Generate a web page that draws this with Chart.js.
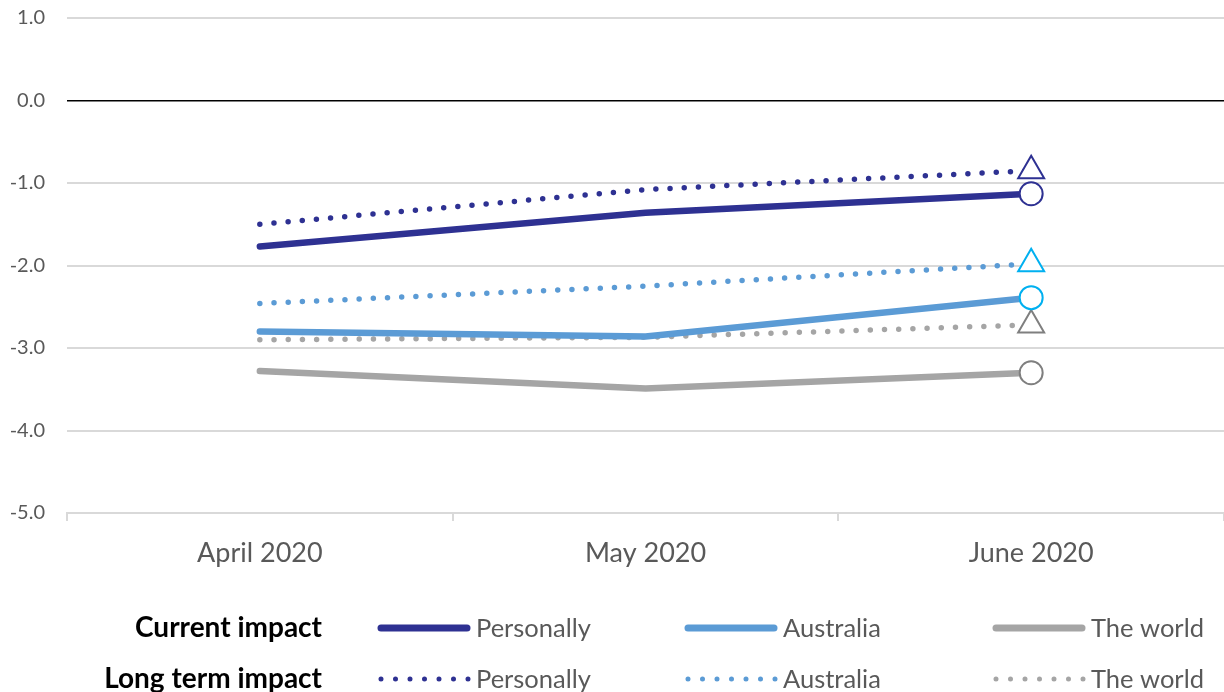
<!DOCTYPE html>
<html>
<head>
<meta charset="utf-8">
<script src="https://cdn.jsdelivr.net/npm/chart.js@4"></script>
<style>
  html, body { margin: 0; padding: 0; background: #fff; overflow: hidden; }
  #wrap { width: 1224px; height: 692px; position: relative; }
  canvas { display: block; }
</style>
</head>
<body>
<div id="wrap"><canvas id="chart"></canvas></div>
<script>
/* Impact of COVID-19: current vs long term, by month */

const months = ["April 2020", "May 2020", "June 2020"];
const currentPersonally = [-1.77, -1.36, -1.13];
const currentAustralia = [-2.80, -2.86, -2.39];
const currentWorld = [-3.28, -3.49, -3.30];
const longPersonally = [-1.50, -1.08, -0.85];
const longAustralia = [-2.46, -2.25, -1.98];
const longWorld = [-2.90, -2.87, -2.72];
const yMin = -5;
const yMax = 1;
const rowLabels = ["Current impact", "Long term impact"];
const seriesNames = ["Personally", "Australia", "The world"];

const NAVY = "#2e3192";
const SKY = "#5b9bd5";
const GREY = "#a5a5a5";
const CYAN = "#00b0f0";
const DARKGREY = "#7f7f7f";
const FONT = "Lato, 'Open Sans', sans-serif";

function endMarker(n, r) {
  return months.map((_, i) => (i === n - 1 ? r : 0));
}

function solid(label, data, color, markColor) {
  return {
    label, data, borderColor: color, borderWidth: 6.5, borderCapStyle: "round",
    pointStyle: "circle", pointRadius: endMarker(data.length, 11.5), pointHoverRadius: 0,
    pointBackgroundColor: "#fff", pointBorderColor: markColor, pointBorderWidth: 2,
    tension: 0, fill: false,
  };
}

function dotted(label, data, color, markColor) {
  return {
    label, data, borderColor: color, borderWidth: 5.5, borderCapStyle: "round",
    borderDash: [0, 14.2],
    pointStyle: "triangle", pointRadius: endMarker(data.length, 15), pointHoverRadius: 0,
    pointBackgroundColor: "#fff", pointBorderColor: markColor, pointBorderWidth: 2,
    tension: 0, fill: false,
  };
}

const datasets = [
  solid("Current Personally", currentPersonally, NAVY, NAVY),
  solid("Current Australia", currentAustralia, SKY, CYAN),
  solid("Current The world", currentWorld, GREY, DARKGREY),
  dotted("Long term Personally", longPersonally, NAVY, NAVY),
  dotted("Long term Australia", longAustralia, SKY, CYAN),
  dotted("Long term The world", longWorld, GREY, DARKGREY),
];

// two-row legend drawn under the plot, Excel style
const rowLegend = {
  id: "rowLegend",
  afterDraw(chart) {
    const ctx = chart.ctx;
    const rowsY = [628, 679];
    const starts = [378, 685, 993];
    const lineLen = 92;
    ctx.save();
    rowsY.forEach((y, r) => {
      ctx.font = "bold 28px " + FONT;
      ctx.fillStyle = "#000";
      ctx.textAlign = "right";
      ctx.textBaseline = "middle";
      ctx.fillText(rowLabels[r], 322, y);
      starts.forEach((x, s) => {
        const ds = chart.data.datasets[r * 3 + s];
        ctx.beginPath();
        ctx.strokeStyle = ds.borderColor;
        ctx.lineCap = "round";
        if (r === 0) {
          ctx.lineWidth = 7;
          ctx.setLineDash([]);
          ctx.moveTo(x + 3, y);
          ctx.lineTo(x + lineLen - 3, y);
        } else {
          ctx.lineWidth = 5;
          ctx.setLineDash([0, 14.5]);
          ctx.moveTo(x + 3, y);
          ctx.lineTo(x + lineLen, y);
        }
        ctx.stroke();
        ctx.setLineDash([]);
        ctx.font = "25.5px " + FONT;
        ctx.fillStyle = "#595959";
        ctx.textAlign = "left";
        ctx.fillText(seriesNames[s], x + lineLen + 6, y + 1);
      });
    });
    ctx.restore();
  },
};

new Chart(document.getElementById("chart"), {
  type: "line",
  data: { labels: months, datasets },
  plugins: [rowLegend],
  options: {
    responsive: true,
    maintainAspectRatio: false,
    animation: false,
    events: [],
    layout: { autoPadding: false, padding: { top: 18, right: 0, left: 0, bottom: 0 } },
    plugins: { legend: { display: false }, tooltip: { enabled: false }, title: { display: false } },
    scales: {
      x: {
        offset: true,
        grid: { offset: true, drawOnChartArea: false, drawTicks: true, tickLength: 8, color: "#d9d9d9", lineWidth: 2 },
        border: { display: true, color: "#d9d9d9", width: 2 },
        ticks: { color: "#595959", font: { family: FONT, size: 27 }, padding: 16 },
        afterFit(scale) {
          scale.height = 692 - 513;
          scale.paddingLeft = 0;
          scale.paddingRight = 0;
        },
      },
      y: {
        min: yMin,
        max: yMax,
        ticks: {
          stepSize: 1,
          color: "#595959",
          font: { family: FONT, size: 20 },
          padding: 22,
          callback: (v) => v.toFixed(1),
        },
        grid: {
          drawTicks: false,
          lineWidth: (c) => (c.tick && c.tick.value === 0 ? 1.5 : 2),
          color: (c) => (c.tick && c.tick.value === 0 ? "#000" : "#d9d9d9"),
        },
        border: { display: false },
        afterFit(scale) {
          scale.width = 67;
          scale.paddingTop = 0;
          scale.paddingBottom = 0;
        },
      },
    },
  },
});
</script>
</body>
</html>
